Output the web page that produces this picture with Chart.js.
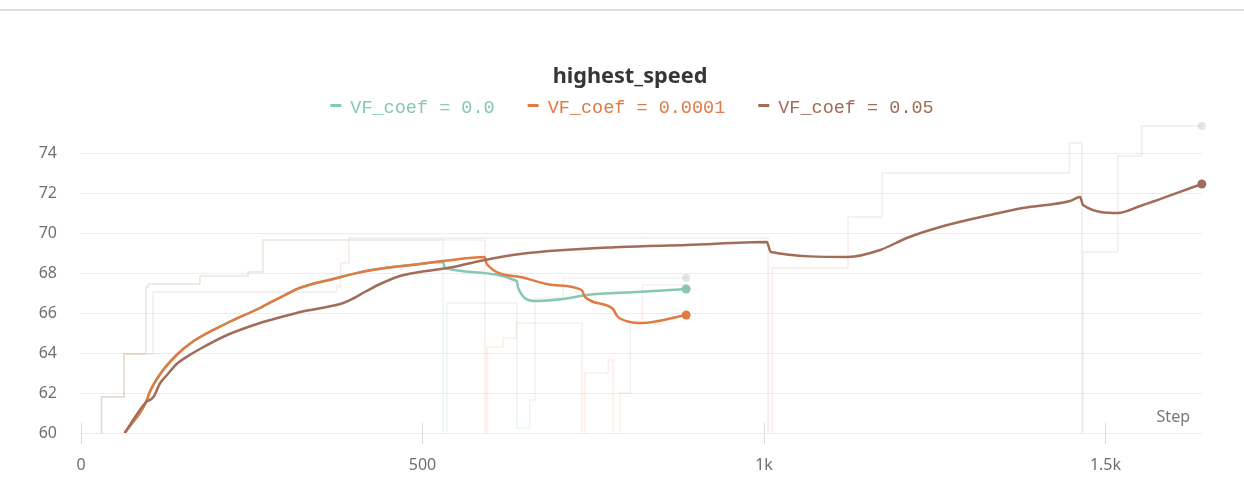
<!DOCTYPE html>
<html>
<head>
<meta charset="utf-8">
<script src="https://cdn.jsdelivr.net/npm/chart.js@4.4.1/dist/chart.umd.min.js"></script>
<style>
  html, body { margin: 0; padding: 0; background: #ffffff; }
  #wrap { position: relative; width: 1244px; height: 496px; overflow: hidden; }
  #rule { position: absolute; left: 0; top: 9px; width: 1244px; border-top: 2px solid #dedede; }
  canvas { position: absolute; left: 0; top: 0; }
</style>
</head>
<body>
<div id="wrap">
  <canvas id="chart" width="1244" height="496"></canvas>
  <div id="rule"></div>
</div>
<script>
// Panel heading
const chartTitle = 'highest_speed';

// Runs and their colours
const runLabels = ['VF_coef = 0.0', 'VF_coef = 0.0001', 'VF_coef = 0.05'];
const runColors = ['#86c8b1', '#e07b43', '#a16c58'];
const rawColors = ['rgba(134,200,177,0.17)', 'rgba(224,123,67,0.13)', 'rgba(190,110,100,0.14)'];

// Smoothed curves (step, highest_speed)
const greenSteps  = [64, 96, 100, 116, 140, 165, 214, 262, 270, 296, 320, 369, 418, 496, 530, 533, 638, 640, 665, 706, 741, 814, 886];
const greenValues = [60.0, 61.6, 62.0, 62.95, 63.9, 64.6, 65.5, 66.25, 66.4, 66.85, 67.25, 67.7, 68.1, 68.45, 68.55, 68.25, 67.6, 67.25, 66.6, 66.7, 66.9, 67.05, 67.2];

const orangeSteps  = [64, 96, 100, 116, 140, 165, 214, 262, 270, 296, 320, 369, 418, 496, 530, 591, 594, 643, 691, 733, 738, 779, 785, 804, 821, 886];
const orangeValues = [60.0, 61.6, 62.0, 62.95, 63.9, 64.6, 65.5, 66.25, 66.4, 66.85, 67.25, 67.7, 68.1, 68.45, 68.6, 68.8, 68.45, 67.8, 67.4, 67.15, 66.8, 66.2, 65.85, 65.55, 65.5, 65.9];

const brownSteps  = [64, 94, 106, 116, 126, 140, 164, 174, 214, 262, 272, 321, 384, 394, 418, 438, 467, 496, 545, 584, 643, 789, 887, 1004, 1010, 1123, 1170, 1209, 1258, 1331, 1379, 1448, 1463, 1467, 1518, 1551, 1641];
const brownValues = [60.0, 61.5, 61.8, 62.5, 62.9, 63.45, 64.0, 64.2, 64.9, 65.5, 65.6, 66.05, 66.5, 66.65, 67.1, 67.45, 67.85, 68.05, 68.3, 68.6, 68.95, 69.3, 69.4, 69.55, 69.05, 68.8, 69.15, 69.75, 70.3, 70.9, 71.25, 71.6, 71.8, 71.4, 71.0, 71.35, 72.45];

// Raw logged values (held until the next logged step)
const greenRawSteps  = [30, 30, 63, 95, 98.5, 174, 244.5, 266.5, 530, 536, 638, 657, 665, 706, 886];
const greenRawValues = [58.5, 61.8, 63.95, 67.3, 67.45, 67.85, 68.05, 69.65, 58.5, 66.5, 60.25, 61.65, 66.75, 67.75, 67.75];

const orangeRawSteps  = [30, 30, 63, 95, 98.5, 174, 244.5, 266.5, 591.5, 594.4, 618, 638, 733.5, 738, 772, 779, 789, 804, 822, 886];
const orangeRawValues = [58.5, 61.8, 63.95, 67.3, 67.45, 67.85, 68.05, 69.65, 58.5, 64.3, 64.75, 65.5, 58.5, 63.0, 63.65, 58.5, 62.0, 65.5, 67.4, 67.4];

const brownRawSteps  = [30, 30, 63, 105.5, 374, 380, 392, 1006, 1012, 1123, 1173, 1447, 1465.5, 1467, 1518, 1553, 1641];
const brownRawValues = [58.5, 61.8, 63.95, 67.05, 67.3, 68.5, 69.75, 58.5, 68.25, 70.8, 73.0, 74.5, 58.5, 69.05, 73.85, 75.35, 75.35];

// Axes
const xTickValues = [0, 500, 1000, 1500];
const xTickLabels = ['0', '500', '1k', '1.5k'];
const yTickValues = [60, 62, 64, 66, 68, 70, 72, 74];
const xMax = 1641.3;
const yMin = 60;
const yMax = 75.7;

const toPoints = (xs, ys) => xs.map((x, i) => ({ x: x, y: ys[i] }));
const lastOnly = (r) => (ctx) => (ctx.dataIndex === ctx.dataset.data.length - 1 ? r : 0);
const plotClip = { left: 0, top: 8, right: 8, bottom: 0 };

function smoothSet(i, xs, ys) {
  return {
    label: runLabels[i],
    data: toPoints(xs, ys),
    borderColor: runColors[i],
    backgroundColor: runColors[i],
    borderWidth: 2.5,
    cubicInterpolationMode: 'monotone',
    pointRadius: lastOnly(4.5),
    pointHoverRadius: 0,
    pointBorderWidth: 0,
    pointBackgroundColor: runColors[i],
    clip: plotClip,
    order: 2 - i,
    isKey: true
  };
}
function rawSet(i, xs, ys, endDot) {
  return {
    label: runLabels[i] + ' (raw)',
    data: toPoints(xs, ys),
    borderColor: rawColors[i],
    borderWidth: 1.5,
    stepped: true,
    pointRadius: lastOnly(endDot ? 4 : 0),
    pointHoverRadius: 0,
    pointBorderWidth: 0,
    pointBackgroundColor: 'rgba(205,205,205,0.55)',
    clip: plotClip,
    order: 5 - i,
    isKey: false
  };
}

const datasets = [
  smoothSet(0, greenSteps, greenValues),
  smoothSet(1, orangeSteps, orangeValues),
  smoothSet(2, brownSteps, brownValues),
  rawSet(0, greenRawSteps, greenRawValues, true),
  rawSet(1, orangeRawSteps, orangeRawValues, false),
  rawSet(2, brownRawSteps, brownRawValues, true)
];

// Title and a legend row (dash + label per run) above the plot
const header = {
  id: 'header',
  afterDraw(chart) {
    const ctx = chart.ctx;
    const cx = 630;
    ctx.save();
    ctx.font = 'bold 21.7px "Noto Sans", sans-serif';
    ctx.fillStyle = '#363636';
    ctx.textAlign = 'center';
    ctx.textBaseline = 'alphabetic';
    ctx.fillText(chartTitle, cx, 83);

    const items = chart.data.datasets.filter(d => d.isKey);
    ctx.font = '18.5px "Liberation Mono", monospace';
    ctx.textAlign = 'left';
    const dash = 11, gap = 9, between = 33;
    const widths = items.map(d => dash + gap + ctx.measureText(d.label).width);
    const total = widths.reduce((a, b) => a + b, 0) + between * (items.length - 1);
    let x = cx + 2 - total / 2;
    items.forEach((d, i) => {
      ctx.fillStyle = d.borderColor;
      ctx.fillRect(x, 104, dash, 3);
      ctx.fillText(d.label, x + dash + gap, 113);
      x += widths[i] + between;
    });
    ctx.restore();
  }
};

// Short marks at the x ticks, crossing the baseline
const xTickMarks = {
  id: 'xTickMarks',
  beforeDatasetsDraw(chart) {
    const ctx = chart.ctx;
    const sx = chart.scales.x;
    const b = chart.chartArea.bottom;
    ctx.save();
    ctx.strokeStyle = '#dcdcdc';
    ctx.lineWidth = 1;
    xTickValues.forEach(v => {
      const px = Math.round(sx.getPixelForValue(v)) + 0.5;
      ctx.beginPath();
      ctx.moveTo(px, b - 10);
      ctx.lineTo(px, b + 11);
      ctx.stroke();
    });
    ctx.restore();
  }
};

// Axis name in the lower right corner of the plot
const stepLabel = {
  id: 'stepLabel',
  afterDraw(chart) {
    const ctx = chart.ctx;
    const a = chart.chartArea;
    ctx.save();
    ctx.font = '16px "Noto Sans", sans-serif';
    ctx.fillStyle = '#777777';
    ctx.textAlign = 'right';
    ctx.textBaseline = 'middle';
    ctx.fillText('Step', a.right - 12, a.bottom - 16);
    ctx.restore();
  }
};

new Chart(document.getElementById('chart'), {
  type: 'line',
  data: { datasets: datasets },
  options: {
    responsive: false,
    animation: false,
    devicePixelRatio: 1,
    layout: { padding: { left: 0, right: 42, top: 119, bottom: 0 } },
    interaction: { mode: null },
    plugins: {
      legend: { display: false },
      tooltip: { enabled: false },
      title: { display: false }
    },
    scales: {
      x: {
        type: 'linear',
        min: 0,
        max: xMax,
        afterBuildTicks: (s) => { s.ticks = xTickValues.map(v => ({ value: v })); },
        afterFit: (s) => { s.height = 63; },
        grid: { display: false, drawTicks: false },
        border: { display: false },
        ticks: {
          padding: 23,
          color: '#6f6f6f',
          font: { family: '"Noto Sans", sans-serif', size: 16 },
          maxRotation: 0,
          callback: (v) => xTickLabels[xTickValues.indexOf(v)]
        }
      },
      y: {
        type: 'linear',
        min: yMin,
        max: yMax,
        afterBuildTicks: (s) => { s.ticks = yTickValues.map(v => ({ value: v })); },
        afterFit: (s) => { s.width = 81; },
        grid: { color: '#ececec', lineWidth: 1, drawTicks: false },
        border: { display: false },
        ticks: {
          padding: 24,
          color: '#6f6f6f',
          font: { family: '"Noto Sans", sans-serif', size: 16 }
        }
      }
    }
  },
  plugins: [xTickMarks, header, stepLabel]
});
</script>
</body>
</html>
